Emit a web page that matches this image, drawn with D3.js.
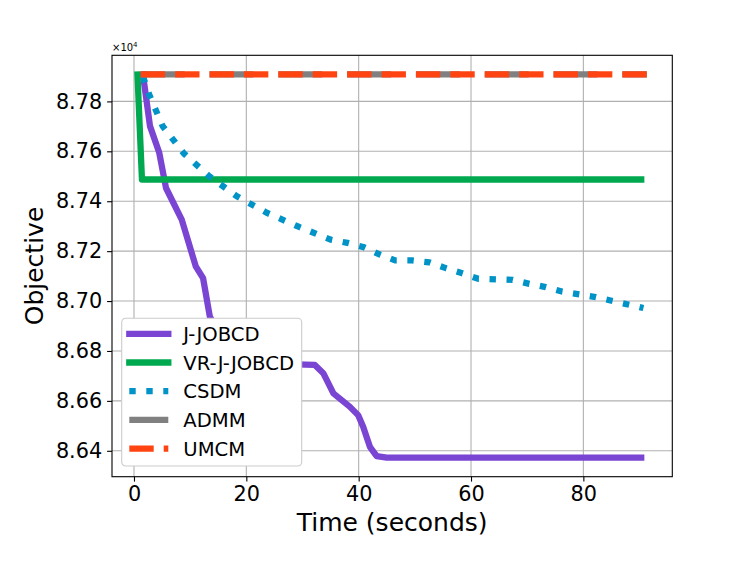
<!DOCTYPE html>
<html>
<head>
<meta charset="utf-8">
<script src="https://cdn.jsdelivr.net/npm/d3@7"></script>
<style>
  body { margin: 0; background: #fff; }
  svg { display: block; font-family: "DejaVu Sans", sans-serif; }
</style>
</head>
<body>
<div id="app"></div>
<script>
// data (objective values, time in seconds)
const jjobcdTime = [1.6, 2.85, 4.5, 5.7, 8.5, 11.0, 12.3, 13.5, 14.6, 16.0, 18.0, 22.0, 32.2, 33.7, 35.5, 38.4, 39.9, 40.8, 42.0, 43.2, 45.0, 90.3];
const jjobcdObj = [87908, 87701, 87594, 87453, 87326, 87139, 87092, 86938, 86890, 86820, 86770, 86750, 86744, 86711, 86630, 86577, 86543, 86496, 86416, 86379, 86373, 86373];

const vrTime = [0.62, 1.42, 90.3];
const vrObj = [87908, 87487, 87487];

const csdmTime = [1.6, 2.7, 5.1, 8.9, 13.4, 18.3, 23.7, 29.4, 35.0, 38.0, 41.0, 43.8, 46.5, 49.5, 52.6, 55.5, 58.3, 61.3, 67.4, 70.4, 73.3, 76.2, 82.2, 88.2, 90.7];
const csdmObj = [87900, 87828, 87701, 87591, 87500, 87420, 87353, 87297, 87246, 87233, 87215, 87186, 87163, 87163, 87155, 87132, 87112, 87089, 87085, 87069, 87056, 87038, 87016, 86985, 86972];

const admmTime = [1.2, 91.3];
const admmObj = [87908, 87908];

const umcmTime = [1.2, 91.3];
const umcmObj = [87908, 87908];

const seriesNames = ['J-JOBCD', 'VR-J-JOBCD', 'CSDM', 'ADMM', 'UMCM'];
const seriesColors = ['#7b45d3', '#00a850', '#0093c8', '#808080', '#ff4412'];
const seriesDash = [null, null, '6.4,10.6', '44,24.8', '24.4,10'];

const xTickValues = [0, 20, 40, 60, 80];
const yTickValues = [86400, 86600, 86800, 87000, 87200, 87400, 87600, 87800];

const times = [jjobcdTime, vrTime, csdmTime, admmTime, umcmTime];
const objs = [jjobcdObj, vrObj, csdmObj, admmObj, umcmObj];

const W = 747, H = 561;
const margin = { left: 112, top: 55.3, right: 747 - 672.3, bottom: 561 - 476.7 };
const iw = W - margin.left - margin.right;
const ih = H - margin.top - margin.bottom;
const lw = 6.3;

const svg = d3.select('#app').append('svg')
  .attr('width', W).attr('height', H);

// domains like matplotlib: data extent + 5% padding
const allT = times.flat(), allY = objs.flat();
const [tMin, tMax] = d3.extent(allT);
const [yMin, yMax] = d3.extent(allY);
const tPad = (tMax - tMin) * 0.05, yPad = (yMax - yMin) * 0.05;

const x = d3.scaleLinear().domain([tMin - tPad, tMax + tPad]).range([0, iw]);
const y = d3.scaleLinear().domain([yMin - yPad, yMax + yPad]).range([ih, 0]);

const g = svg.append('g').attr('transform', `translate(${margin.left},${margin.top})`);

// grid
g.append('g').selectAll('line').data(xTickValues).join('line')
  .attr('x1', d => x(d)).attr('x2', d => x(d))
  .attr('y1', 0).attr('y2', ih)
  .attr('stroke', '#b0b0b0').attr('stroke-width', 1.1);
g.append('g').selectAll('line').data(yTickValues).join('line')
  .attr('x1', 0).attr('x2', iw)
  .attr('y1', d => y(d)).attr('y2', d => y(d))
  .attr('stroke', '#b0b0b0').attr('stroke-width', 1.1);

// series
const clip = svg.append('clipPath').attr('id', 'plotclip');
clip.append('rect').attr('width', iw).attr('height', ih);

const line = d3.line().x(d => x(d[0])).y(d => y(d[1]));
const lines = g.append('g').attr('clip-path', 'url(#plotclip)');
seriesNames.forEach((name, i) => {
  const pts = times[i].map((t, k) => [t, objs[i][k]]);
  lines.append('path')
    .datum(pts)
    .attr('d', line)
    .attr('fill', 'none')
    .attr('stroke', seriesColors[i])
    .attr('stroke-width', lw)
    .attr('stroke-linejoin', 'round')
    .attr('stroke-linecap', seriesDash[i] ? 'butt' : 'square')
    .attr('stroke-dasharray', seriesDash[i]);
});

// axes
const xAxis = g.append('g').attr('transform', `translate(0,${ih})`)
  .call(d3.axisBottom(x).tickValues(xTickValues).tickSize(4.9).tickPadding(4.5).tickFormat(d3.format('d')));
const yAxis = g.append('g')
  .call(d3.axisLeft(y).tickValues(yTickValues).tickSize(4.9).tickPadding(4.9).tickFormat(d => (d / 1e4).toFixed(2)));
[xAxis, yAxis].forEach(a => {
  a.select('.domain').remove();
  a.selectAll('line').attr('stroke', '#000').attr('stroke-width', 1.1);
  a.selectAll('text').attr('font-size', 20.8).attr('fill', '#000')
    .attr('font-family', '"DejaVu Sans", sans-serif');
});

// frame
g.append('rect').attr('width', iw).attr('height', ih)
  .attr('fill', 'none').attr('stroke', '#000').attr('stroke-width', 1.1);

// offset text
const off = svg.append('text').attr('x', margin.left).attr('y', 51)
  .attr('font-size', 10).attr('fill', '#000');
off.append('tspan').text('×10');
off.append('tspan').attr('dy', -4).attr('font-size', 7).text('4');

// axis labels
svg.append('text')
  .attr('x', margin.left + iw / 2).attr('y', 531)
  .attr('text-anchor', 'middle').attr('font-size', 25).attr('fill', '#000')
  .text('Time (seconds)');
svg.append('text')
  .attr('transform', `translate(42.5,${margin.top + ih / 2}) rotate(-90)`)
  .attr('text-anchor', 'middle').attr('font-size', 25).attr('fill', '#000')
  .text('Objective');

// legend
const leg = svg.append('g').attr('transform', 'translate(121.7,318.3)');
leg.append('rect').attr('width', 180).attr('height', 147.7)
  .attr('rx', 4).attr('ry', 4)
  .attr('fill', '#fff')
  .attr('stroke', '#cccccc').attr('stroke-width', 1.1);
seriesNames.forEach((name, i) => {
  const cy = 15.5 + i * 28.7;
  leg.append('line')
    .attr('x1', 7.6).attr('x2', 46.6).attr('y1', cy).attr('y2', cy)
    .attr('stroke', seriesColors[i]).attr('stroke-width', lw)
    .attr('stroke-linecap', seriesDash[i] ? 'butt' : 'square')
    .attr('stroke-dasharray', seriesDash[i]);
  leg.append('text')
    .attr('x', 61.6).attr('y', cy).attr('dy', '0.36em')
    .attr('font-size', 19.6).attr('fill', '#000')
    .text(name);
});
</script>
</body>
</html>
